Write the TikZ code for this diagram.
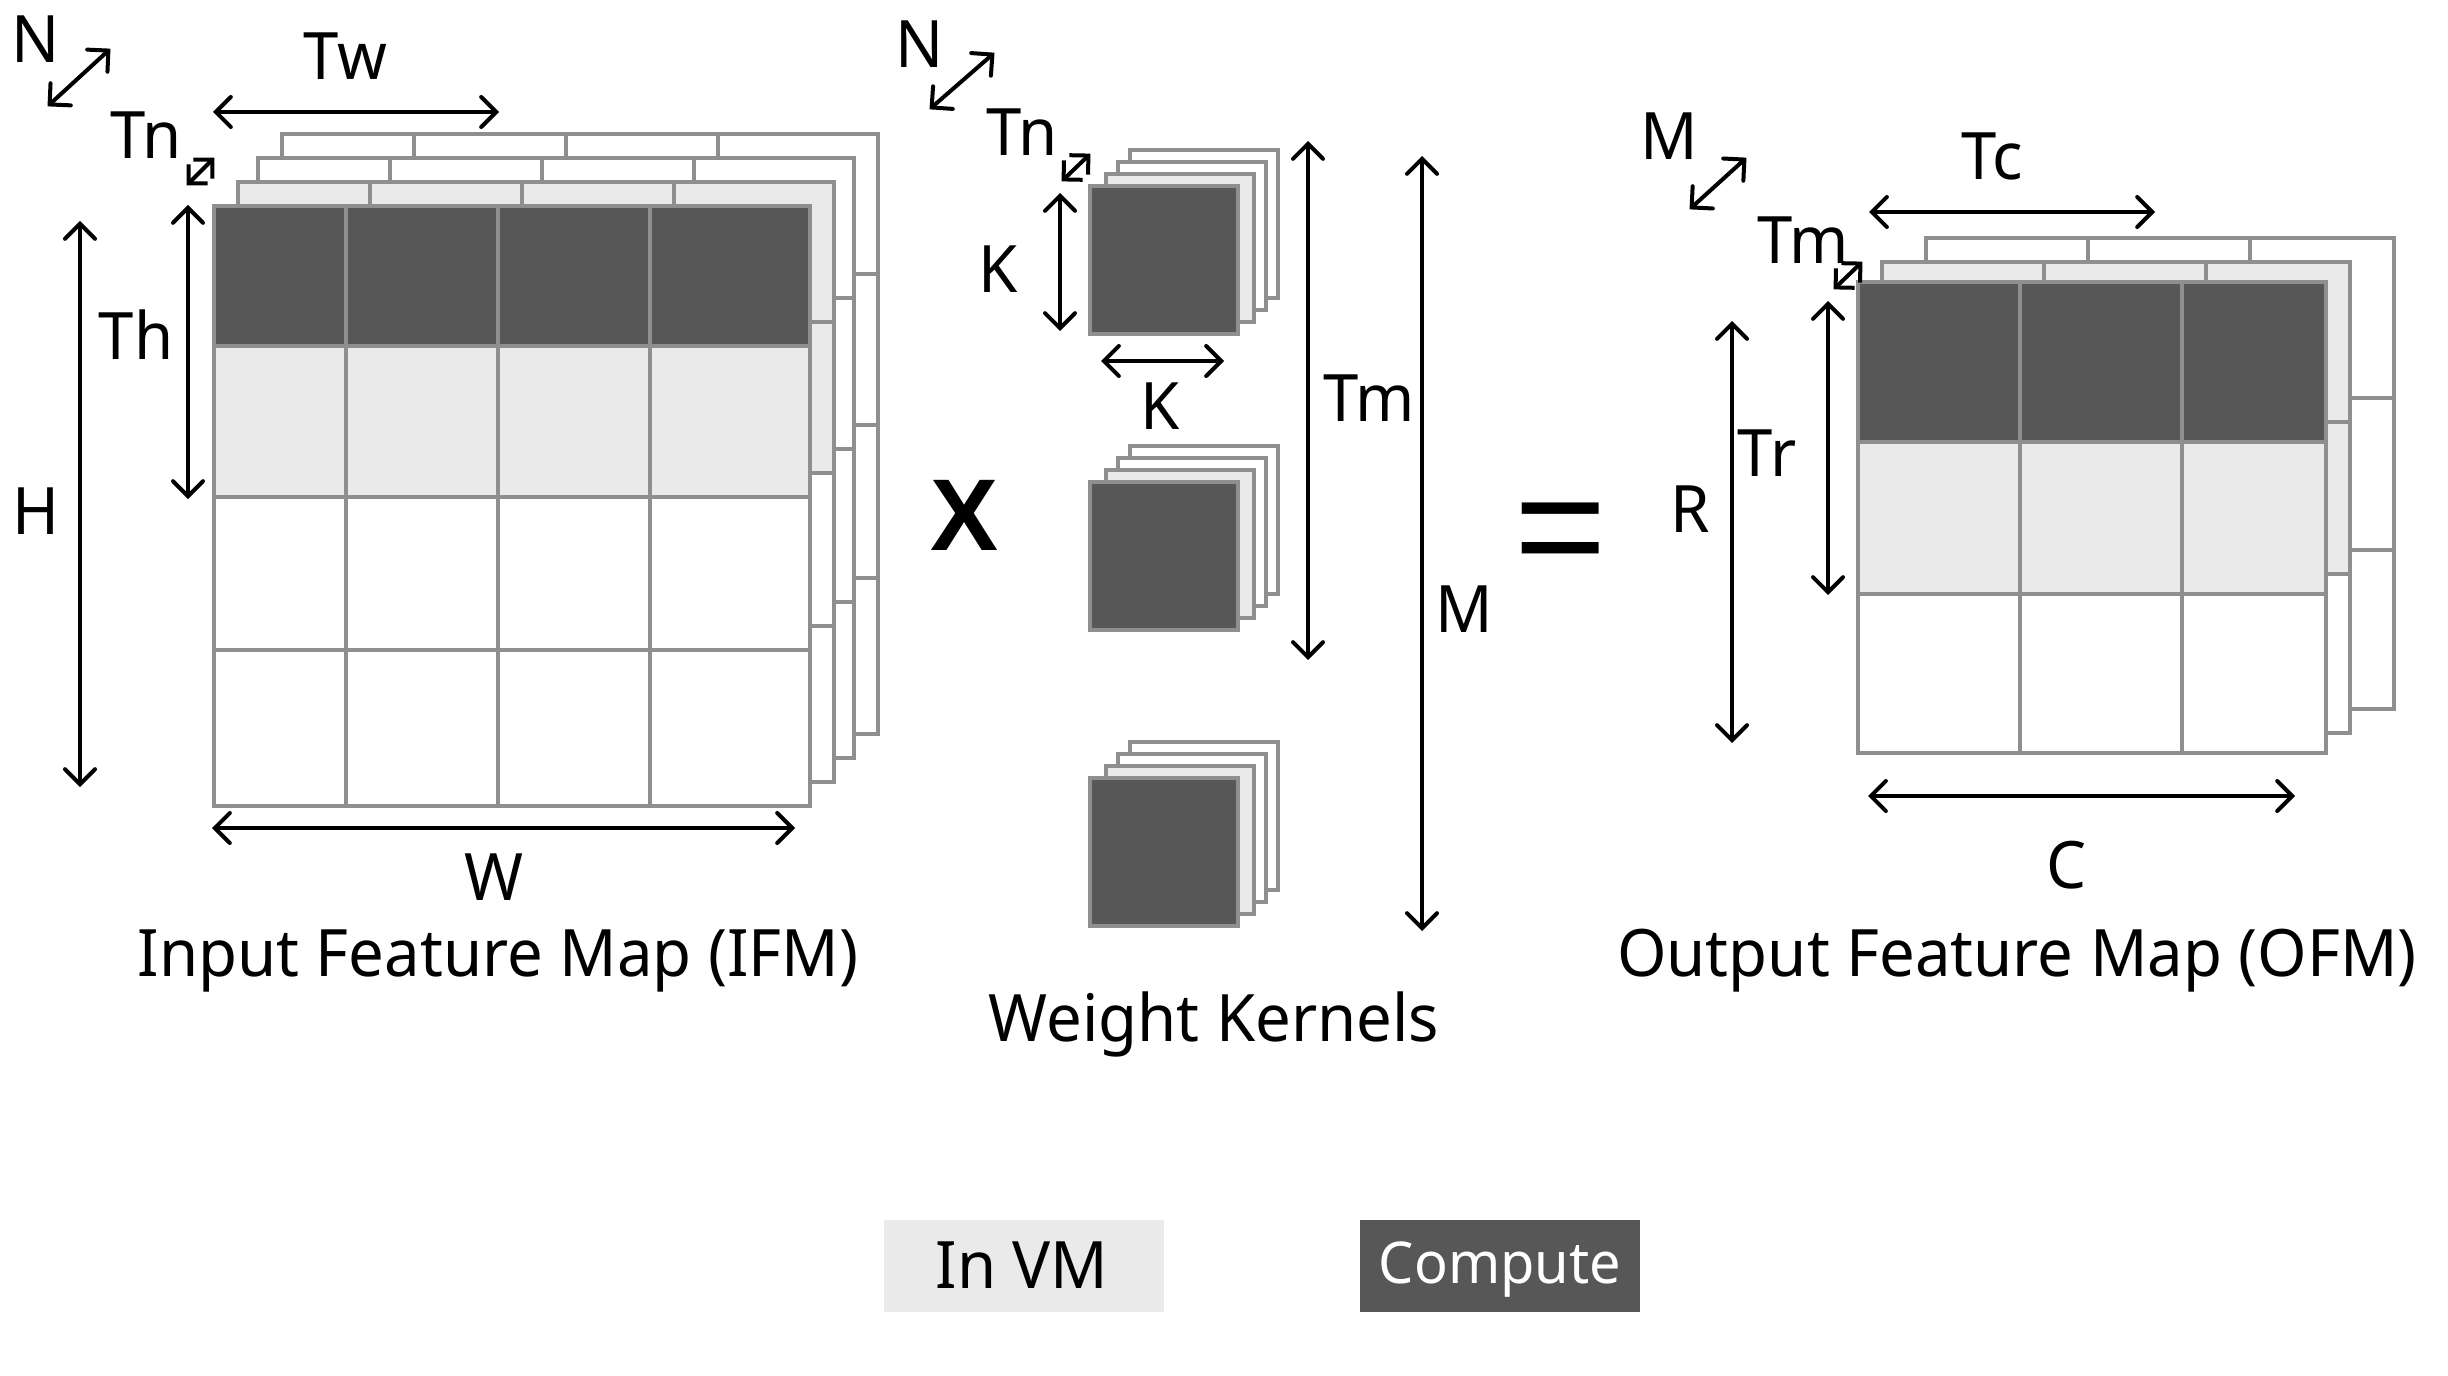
\documentclass[tikz,border=0pt]{standalone}
\usepackage{fontspec}
\usepackage{xcolor}
\setmainfont[FakeStretch=0.97]{Noto Sans}
\newfontfamily\markfont{Liberation Sans}
\usetikzlibrary{arrows.meta}
\definecolor{gridgray}{HTML}{8F8F8F}
\definecolor{vmgray}{HTML}{EAEAEA}
\definecolor{computegray}{HTML}{575757}
\tikzset{
  cell/.style={draw=gridgray,line width=0.04cm,line cap=rect},
  dimarrow/.style={draw=black,line width=0.04cm,shorten <=-0.02cm,shorten >=-0.02cm,{Straight Barb[length=0.15cm,width=0.3cm,line cap=round]}-{Straight Barb[length=0.15cm,width=0.3cm,line cap=round]}},
  smallarrow/.style={draw=black,line width=0.04cm,shorten <=-0.02cm,shorten >=-0.02cm,{Straight Barb[length=0.135cm,width=0.27cm]}-{Straight Barb[length=0.135cm,width=0.27cm]}},
  lab/.style={font=\fontsize{18.6}{22}\selectfont,inner sep=0,anchor=base}
}
\begin{document}
\begin{tikzpicture}[x=0.01cm,y=-0.01cm]
\useasboundingbox (0,0) rectangle (2448,1376);
% input feature map
\foreach \dx/\dy/\fa/\fb in {68/-72/white/white,44/-48/white/white,24/-24/vmgray/vmgray,0/0/computegray/vmgray} {
\begin{scope}[shift={(\dx,\dy)}]
\filldraw[cell,fill=white] (214,206) rectangle (810,806);
\fill[\fa] (214,206) rectangle (810,346);
\fill[\fb] (214,346) rectangle (810,497);
\draw[cell] (214,206) rectangle (810,806);
\foreach \x in {346,498,650} {\draw[cell] (\x,206)--(\x,806);}
\foreach \y in {346,497,650} {\draw[cell] (214,\y)--(810,\y);}
\end{scope}}
% weight kernels
\foreach \ky in {0,296,592} {
\foreach \dx/\dy/\fa in {40/-36/white,28/-24/white,16/-12/vmgray,0/0/computegray} {
\filldraw[cell,fill=\fa] (1090+\dx,186+\ky+\dy) rectangle (1238+\dx,334+\ky+\dy);
}}
% output feature map
\foreach \dx/\dy/\fa/\fb in {68/-44/white/white,24/-20/vmgray/vmgray,0/0/computegray/vmgray} {
\begin{scope}[shift={(\dx,\dy)}]
\filldraw[cell,fill=white] (1858,282) rectangle (2326,753);
\fill[\fa] (1858,282) rectangle (2326,442);
\fill[\fb] (1858,442) rectangle (2326,594);
\draw[cell] (1858,282) rectangle (2326,753);
\foreach \x in {2020,2182} {\draw[cell] (\x,282)--(\x,753);}
\foreach \y in {442,594} {\draw[cell] (1858,\y)--(2326,\y);}
\end{scope}}
% dimension arrows
\foreach \xa/\ya/\xb/\yb in {49/105/109/50,215/112/497/112,188/207/188/497,80/223/80/785,214/828/793/828,
931/108/993/54,1060/195/1060/329,1103/361/1222/361,1308/143/1308/658,1422/158/1422/929,
1691/208/1745/159,1871/212/2153/212,1732/323/1732/741,1828/303/1828/593,1870/796/2293/796} {
\draw[dimarrow] (\xa,\ya)--(\xb,\yb);
}
\foreach \xa/\ya/\xb/\yb in {188/184/213/159,1063/180/1089/155,1835/288/1861/263} {
\draw[smallarrow] (\xa,\ya)--(\xb,\yb);
}
% labels
\foreach \nm/\x/\y/\z in {nifm/36/63/N,tw/345/80/Tw,tnifm/146/159/Tn,th/136/360/Th,h/36/534/H,w/494/900/W,
nk/920/68/N,tnk/1022/156/Tn,ka/998/292/K,kb/1160/429/K,tmk/1369/421/Tm,mk/1464/632/M,
mo/1669/160/M,tc/1992/180/Tc,tmo/1803/264/Tm,tr/1767/476/Tr,ro/1690/532/R,co/2067/888/C} {
\node[lab] (\nm) at (\x,\y) {\z};
}
\node[lab] (ifm) at (498,976) {Input Feature Map (IFM)};
\node[lab] (kern) at (1214,1041) {Weight Kernels};
\node[lab] (ofm) at (2017,976) {Output Feature Map (OFM)};
\node[lab,font=\markfont\fontsize{29}{32}\selectfont\bfseries] (times) at (964,550) {X};
\node[lab,font=\markfont\fontsize{45}{48}\selectfont] (equals) at (1561,580) {=};
% legend
\node[fill=vmgray,minimum width=2.8cm,minimum height=0.92cm,inner sep=0] (vm) at (1024,1266) {};
\node[fill=computegray,minimum width=2.8cm,minimum height=0.92cm,inner sep=0] (comp) at (1500,1266) {};
\node[lab] (vmt) at (1022,1288) {In VM};
\node[lab,text=white,font=\fontsize{16.4}{20}\selectfont] (compt) at (1500,1283) {Compute};
\end{tikzpicture}
\end{document}
